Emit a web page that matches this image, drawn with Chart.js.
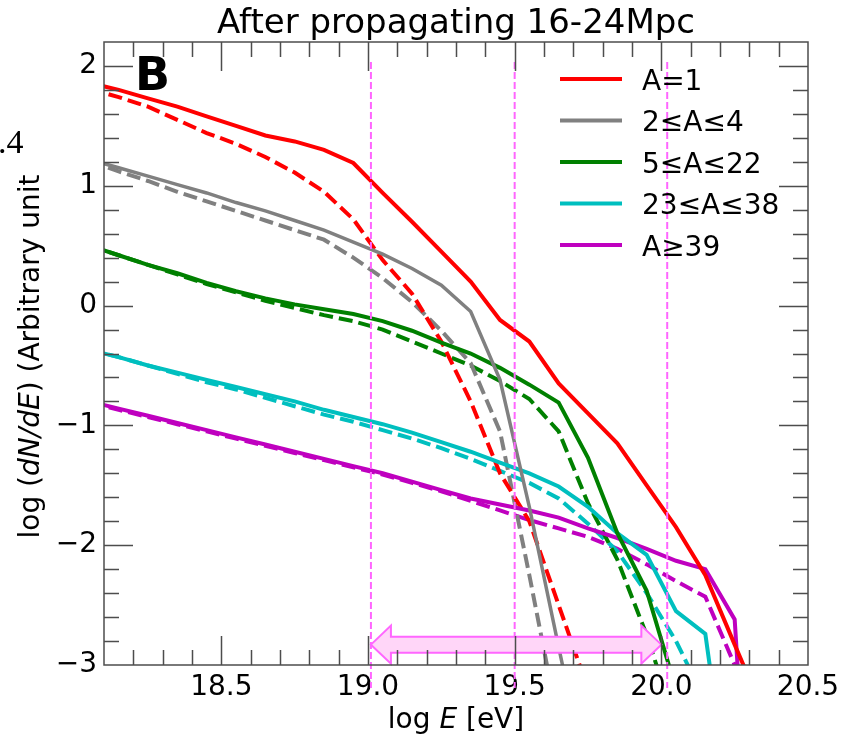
<!DOCTYPE html>
<html>
<head>
<meta charset="utf-8">
<script src="https://cdn.jsdelivr.net/npm/chart.js@4.4.1/dist/chart.umd.min.js"></script>
<style>
  html, body { margin: 0; padding: 0; background: #fff; }
  #wrap { width: 841px; height: 739px; }
</style>
</head>
<body>
<div id="wrap"><canvas id="spectrum" width="841" height="739"></canvas></div>
<script>
// energy bins (log E [eV])
const logE = [18.05, 18.15, 18.25, 18.35, 18.45, 18.55, 18.65, 18.75, 18.85, 18.95, 19.05, 19.15,
              19.25, 19.35, 19.45, 19.55, 19.65, 19.75, 19.85, 19.95, 20.05, 20.15, 20.25, 20.35];

// log(dN/dE), solid curves
const a1       = [1.86, 1.80, 1.73, 1.66, 1.58, 1.50, 1.42, 1.37, 1.30, 1.19, 0.94, 0.70,
                  0.45, 0.20, -0.12, -0.30, -0.65, -0.90, -1.15, -1.50, -1.85, -2.25, -2.83, -3.40];
const a2to4    = [1.22, 1.15, 1.08, 1.01, 0.94, 0.86, 0.79, 0.71, 0.63, 0.53, 0.43, 0.31,
                  0.17, -0.05, -0.62, -1.68, -2.85, -4.00, null, null, null, null, null, null];
const a5to22   = [0.50, 0.42, 0.34, 0.27, 0.19, 0.12, 0.06, 0.01, -0.03, -0.07, -0.13, -0.21,
                  -0.31, -0.40, -0.52, -0.66, -0.81, -1.27, -1.90, -2.38, -3.20, null, null, null];
const a23to38  = [-0.37, -0.43, -0.50, -0.56, -0.62, -0.68, -0.74, -0.80, -0.87, -0.93, -0.99, -1.06,
                  -1.14, -1.22, -1.31, -1.40, -1.51, -1.68, -1.90, -2.08, -2.55, -2.74, -4.50, null];
const a39up    = [-0.80, -0.86, -0.92, -0.98, -1.04, -1.10, -1.16, -1.22, -1.28, -1.34, -1.40, -1.47,
                  -1.54, -1.61, -1.66, -1.71, -1.77, -1.86, -1.94, -2.03, -2.13, -2.20, -2.62, -6.50];

// log(dN/dE), dashed curves
const a1Dash      = [1.81, 1.74, 1.66, 1.55, 1.44, 1.35, 1.24, 1.11, 0.95, 0.72, 0.38, 0.10,
                     -0.30, -0.80, -1.40, -1.80, -2.50, -3.20, null, null, null, null, null, null];
const a2to4Dash   = [1.21, 1.12, 1.04, 0.95, 0.87, 0.79, 0.71, 0.63, 0.55, 0.40, 0.23, 0.03,
                     -0.21, -0.48, -1.05, -2.25, -3.50, null, null, null, null, null, null, null];
const a5to22Dash  = [0.50, 0.42, 0.34, 0.26, 0.18, 0.11, 0.04, -0.02, -0.08, -0.13, -0.20, -0.30,
                     -0.40, -0.50, -0.63, -0.78, -1.05, -1.65, -2.12, -2.75, -3.50, null, null, null];
const a23to38Dash = [-0.37, -0.43, -0.50, -0.57, -0.64, -0.70, -0.77, -0.84, -0.91, -0.97, -1.04, -1.11,
                     -1.19, -1.28, -1.38, -1.48, -1.61, -1.82, -2.05, -2.40, -2.80, -3.30, null, null];
const a39upDash   = [-0.81, -0.87, -0.93, -0.99, -1.05, -1.11, -1.17, -1.23, -1.29, -1.35, -1.41, -1.48,
                     -1.55, -1.63, -1.71, -1.79, -1.86, -1.93, -2.03, -2.16, -2.30, -2.43, -3.00, -4.00];

const groupLabels = ['A=1', '2≤A≤4', '5≤A≤22', '23≤A≤38', 'A≥39'];
const groupColors = ['#ff0000', '#808080', '#008000', '#00bfbf', '#bf00bf'];
const solidSeries = [a1, a2to4, a5to22, a23to38, a39up];
const dashSeries  = [a1Dash, a2to4Dash, a5to22Dash, a23to38Dash, a39upDash];

const xTickValues = [18.5, 19.0, 19.5, 20.0, 20.5];
const yTickValues = [-3, -2, -1, 0, 1, 2];
const markerLines = [19.01, 19.5, 20.02];   // vertical dashed lines
const arrowRange  = [19.01, 20.0];          // double arrow, log E
const arrowLevel  = -2.83;

const FONT = "'DejaVu Sans', sans-serif";
const AXIS_COLOR = '#4d4d4d';

function toPoints(ys) {
    const pts = [];
    ys.forEach((y, i) => {
        if (y !== null) pts.push({ x: logE[i], y: y });
    });
    return pts;
}

const datasets = [];
solidSeries.forEach((ys, i) => {
    datasets.push({
        label: groupLabels[i],
        data: toPoints(ys),
        borderColor: groupColors[i],
        borderWidth: i === 1 ? 3.5 : 4,
        pointRadius: 0,
        tension: 0,
        fill: false,
    });
});
dashSeries.forEach((ys, i) => {
    datasets.push({
        label: groupLabels[i] + ' (dashed)',
        data: toPoints(ys),
        borderColor: groupColors[i],
        borderWidth: 4,
        borderDash: [14, 6],
        pointRadius: 0,
        tension: 0,
        fill: false,
    });
});

// draws spines, inward ticks, annotations, legend and axis titles
const decorPlugin = {
    id: 'decorPlugin',
    afterDatasetsDraw(chart) {
        const { ctx, chartArea, scales } = chart;
        const xs = scales.x, ys = scales.y;
        const { left, right, top, bottom } = chartArea;

        ctx.save();

        // vertical dashed markers
        ctx.strokeStyle = '#ff66ff';
        ctx.lineWidth = 2;
        ctx.setLineDash([7, 3]);
        markerLines.forEach(v => {
            const px = xs.getPixelForValue(v);
            ctx.beginPath();
            ctx.moveTo(px, top + 20);
            ctx.lineTo(px, bottom + 23);
            ctx.stroke();
        });
        ctx.setLineDash([]);

        // double-headed arrow
        const ax1 = xs.getPixelForValue(arrowRange[0]);
        const ax2 = xs.getPixelForValue(arrowRange[1]);
        const ay = ys.getPixelForValue(arrowLevel);
        const headLen = 20, headHalf = 19, shaftHalf = 8;
        ctx.beginPath();
        ctx.moveTo(ax1, ay);
        ctx.lineTo(ax1 + headLen, ay - headHalf);
        ctx.lineTo(ax1 + headLen, ay - shaftHalf);
        ctx.lineTo(ax2 - headLen, ay - shaftHalf);
        ctx.lineTo(ax2 - headLen, ay - headHalf);
        ctx.lineTo(ax2, ay);
        ctx.lineTo(ax2 - headLen, ay + headHalf);
        ctx.lineTo(ax2 - headLen, ay + shaftHalf);
        ctx.lineTo(ax1 + headLen, ay + shaftHalf);
        ctx.lineTo(ax1 + headLen, ay + headHalf);
        ctx.closePath();
        ctx.fillStyle = '#ffd6f8';
        ctx.fill();
        ctx.strokeStyle = '#ff66ff';
        ctx.lineWidth = 2;
        ctx.stroke();

        // frame
        ctx.strokeStyle = AXIS_COLOR;
        ctx.lineWidth = 1.5;
        ctx.strokeRect(left, top, right - left, bottom - top);

        // inward ticks on all four sides
        const major = 29, minor = 15;
        ctx.beginPath();
        for (let k = 182; k <= 204; k++) {
            const v = k / 10;
            const isMajor = xTickValues.some(t => Math.abs(t - v) < 1e-6);
            const len = isMajor ? major : minor;
            const px = Math.round(xs.getPixelForValue(v)) + 0.5;
            ctx.moveTo(px, bottom); ctx.lineTo(px, bottom - len);
            ctx.moveTo(px, top); ctx.lineTo(px, top + len);
        }
        for (let k = -14; k <= 10; k++) {
            const v = k / 5;
            if (v <= ys.min || v >= ys.max) continue;
            const isMajor = yTickValues.some(t => Math.abs(t - v) < 1e-6);
            const len = isMajor ? major : minor;
            const py = Math.round(ys.getPixelForValue(v)) + 0.5;
            ctx.moveTo(left, py); ctx.lineTo(left + len, py);
            ctx.moveTo(right, py); ctx.lineTo(right - len, py);
        }
        ctx.stroke();

        // legend (solid curves only)
        ctx.font = `28px ${FONT}`;
        ctx.textBaseline = 'alphabetic';
        ctx.textAlign = 'left';
        groupLabels.forEach((lab, i) => {
            const ly = top + 37 + i * 41.5;
            ctx.strokeStyle = groupColors[i];
            ctx.lineWidth = 4;
            ctx.beginPath();
            ctx.moveTo(right - 248, ly);
            ctx.lineTo(right - 186, ly);
            ctx.stroke();
            ctx.fillStyle = '#000';
            ctx.fillText(lab, right - 166, ly + 10.5);
        });

        // panel letter and clipped neighbour text
        ctx.fillStyle = '#000';
        ctx.font = `bold 46px ${FONT}`;
        ctx.fillText('B', 135, 90);
        ctx.font = "34px 'Liberation Serif', serif";
        ctx.fillText('.4', -2, 153);

        // axis titles with italic parts
        const drawMixed = (parts, cx, cy) => {
            let total = 0;
            parts.forEach(p => {
                ctx.font = (p[1] ? 'italic ' : '') + `28px ${FONT}`;
                total += ctx.measureText(p[0]).width;
            });
            let x = cx - total / 2;
            parts.forEach(p => {
                ctx.font = (p[1] ? 'italic ' : '') + `28px ${FONT}`;
                ctx.fillText(p[0], x, cy);
                x += ctx.measureText(p[0]).width;
            });
        };
        drawMixed([['log ', false], ['E', true], [' [eV]', false]], (left + right) / 2, 728);
        ctx.save();
        ctx.translate(39, (top + bottom) / 2 + 3);
        ctx.rotate(-Math.PI / 2);
        drawMixed([['log (', false], ['dN/dE', true], [') (Arbitrary unit', false]], 0, 0);
        ctx.restore();

        ctx.restore();
    }
};

const options = {
    responsive: false,
    maintainAspectRatio: false,
    animation: false,
    devicePixelRatio: 1,
    layout: {
        padding: { left: 0, right: 33, top: 0, bottom: 0 }
    },
    plugins: {
        legend: { display: false },
        tooltip: { enabled: false },
        title: {
            display: true,
            text: 'After propagating 16-24Mpc',
            fullSize: false,
            color: '#000',
            font: { family: FONT, size: 34, weight: 'normal', lineHeight: 1.0 },
            padding: { top: 7, bottom: 1 },
        },
    },
    scales: {
        x: {
            type: 'linear',
            min: 18.1,
            max: 20.5,
            grid: { display: false, drawTicks: false },
            border: { display: false },
            afterBuildTicks: scale => { scale.ticks = xTickValues.map(v => ({ value: v })); },
            afterFit: scale => {
                scale.height = 74;
                scale.paddingLeft = 0;
                scale.paddingRight = 0;
            },
            ticks: {
                autoSkip: false,
                maxRotation: 0,
                padding: 6,
                color: '#000',
                font: { family: FONT, size: 28 },
                callback: v => v.toFixed(1),
            },
        },
        y: {
            type: 'linear',
            min: -3,
            max: 2.2,
            grid: { display: false, drawTicks: false },
            border: { display: false },
            afterBuildTicks: scale => { scale.ticks = yTickValues.map(v => ({ value: v })); },
            afterFit: scale => {
                scale.width = 104;
                scale.paddingTop = 0;
                scale.paddingBottom = 0;
            },
            ticks: {
                autoSkip: false,
                padding: 7,
                color: '#000',
                font: { family: FONT, size: 28 },
                callback: v => (v < 0 ? '\u2212' + Math.abs(v) : String(v)),
            },
        },
    },
};

const spectrumChart = new Chart(document.getElementById('spectrum').getContext('2d'), {
    type: 'line',
    data: { datasets: datasets },
    options: options,
    plugins: [decorPlugin],
});
</script>
</body>
</html>
